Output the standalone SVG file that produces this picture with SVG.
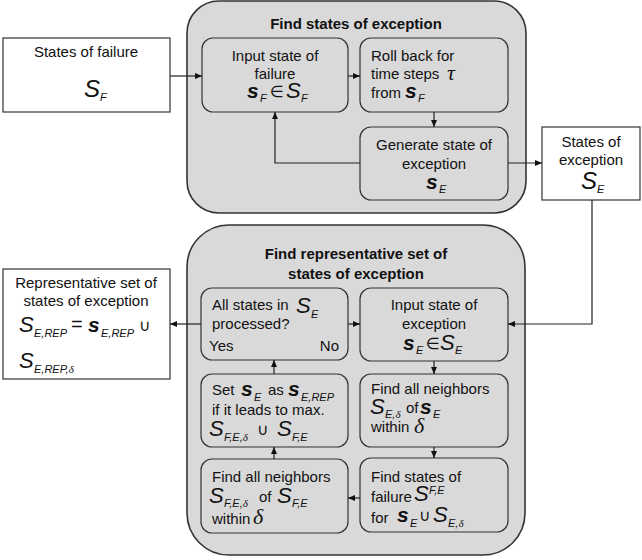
<svg xmlns="http://www.w3.org/2000/svg" width="642" height="560" viewBox="0 0 642 560">
  <style>
    .t { font-family: "Liberation Sans", Arial, sans-serif; font-size: 15px; fill: #111; }
    .c { text-anchor: middle; }
    .e { text-anchor: end; }
    .h { font-weight: bold; }
    .S { font-family: "Liberation Sans", Arial, sans-serif; font-style: italic; font-size: 22px; fill: #111; }
    .L { font-size: 24px; }
    .s { font-family: "Liberation Sans", Arial, sans-serif; font-style: italic; font-weight: bold; font-size: 21px; fill: #111; }
    .sub { font-family: "Liberation Sans", Arial, sans-serif; font-style: italic; font-size: 11px; fill: #111; }
    .gr { font-family: "Liberation Serif", "Times New Roman", serif; font-style: italic; font-size: 22px; fill: #111; }
    .gs { font-family: "Liberation Serif", "Times New Roman", serif; font-style: italic; font-size: 11px; }
    .op { font-family: "DejaVu Sans", sans-serif; font-size: 16px; fill: #111; }
    .group { fill: #d9d9d9; stroke: #333; stroke-width: 1.6; }
    .step { fill: #d9d9d9; stroke: #333; stroke-width: 1.2; }
    .io { fill: #ffffff; stroke: #333; stroke-width: 1.2; }
    .link { fill: none; stroke: #222; stroke-width: 1.2; marker-end: url(#arrow); }
  </style>
  <defs>
    <marker id="arrow" markerUnits="userSpaceOnUse" markerWidth="7" markerHeight="6" refX="7" refY="3" orient="auto">
      <path d="M0,0 L7,3 L0,6 Z" fill="#111"/>
    </marker>
  </defs>

  <rect width="642" height="560" fill="#ffffff"/>

  <!-- Upper stage: find states of exception -->
  <g id="stage-exception">
    <rect class="group" x="187" y="1" width="339" height="212" rx="32"/>
    <text class="t h c" x="356" y="29">Find states of exception</text>
  </g>

  <!-- Lower stage: find representative set -->
  <g id="stage-representative">
    <rect class="group" x="187" y="225" width="338" height="330" rx="42"/>
    <text class="t h c" x="356" y="259">Find representative set of</text>
    <text class="t h c" x="356" y="279">states of exception</text>
  </g>

  <g id="states-of-failure">
    <rect class="io" x="3" y="38" width="167" height="74"/>
    <text class="t c" x="86" y="57">States of failure</text>
    <text class="S L" x="84" y="97">S</text>
    <text class="sub" x="100" y="101">F</text>
  </g>

  <g id="input-failure">
    <rect class="step" x="202" y="38" width="146" height="74" rx="11"/>
    <text class="t c" x="275" y="61">Input state of</text>
    <text class="t c" x="275" y="79">failure</text>
    <text class="s" x="247" y="98">s</text>
    <text class="sub" x="260" y="102">F</text>
    <text class="op" x="270" y="97">∈</text>
    <text class="S" x="286" y="98">S</text>
    <text class="sub" x="301" y="102">F</text>
  </g>

  <g id="roll-back">
    <rect class="step" x="360" y="38" width="148" height="74" rx="11"/>
    <text class="t" x="371" y="61">Roll back for</text>
    <text class="t" x="371" y="79">time steps</text>
    <text class="gr" x="447" y="80">τ</text>
    <text class="t" x="371" y="98">from</text>
    <text class="s" x="405" y="98">s</text>
    <text class="sub" x="418" y="102">F</text>
  </g>

  <g id="generate-exception">
    <rect class="step" x="360" y="127" width="148" height="73" rx="11"/>
    <text class="t c" x="434" y="150">Generate state of</text>
    <text class="t c" x="434" y="169">exception</text>
    <text class="s" x="426" y="189">s</text>
    <text class="sub" x="439" y="193">E</text>
  </g>

  <g id="states-of-exception">
    <rect class="io" x="542" y="127" width="98" height="73"/>
    <text class="t c" x="591" y="147">States of</text>
    <text class="t c" x="591" y="165">exception</text>
    <text class="S L" x="581" y="189">S</text>
    <text class="sub" x="597" y="193">E</text>
  </g>

  <g id="representative-set">
    <rect class="io" x="3" y="269" width="167" height="110"/>
    <text class="t c" x="86" y="288">Representative set of</text>
    <text class="t c" x="86" y="306">states of exception</text>
    <text class="S" x="19" y="332">S</text>
    <text class="sub" x="34" y="337">E,REP</text>
    <text class="t" x="71" y="331" style="font-size:20px">=</text>
    <text class="s" x="88" y="332">s</text>
    <text class="sub" x="101" y="337">E,REP</text>
    <text class="op" x="139" y="331">∪</text>
    <text class="S" x="19" y="368">S</text>
    <text class="sub" x="34" y="373">E,REP,<tspan class="gs">δ</tspan></text>
  </g>

  <g id="all-processed">
    <rect class="step" x="201" y="288" width="147" height="72" rx="11"/>
    <text class="t" x="212" y="310">All states in</text>
    <text class="S" x="296" y="313">S</text>
    <text class="sub" x="311" y="318">E</text>
    <text class="t" x="212" y="329">processed?</text>
    <text class="t" x="209" y="351">Yes</text>
    <text class="t e" x="339" y="351">No</text>
  </g>

  <g id="input-exception">
    <rect class="step" x="360" y="288" width="148" height="73" rx="11"/>
    <text class="t c" x="434" y="310">Input state of</text>
    <text class="t c" x="434" y="329">exception</text>
    <text class="s" x="403" y="350">s</text>
    <text class="sub" x="416" y="354">E</text>
    <text class="op" x="426" y="349">∈</text>
    <text class="S" x="440" y="350">S</text>
    <text class="sub" x="455" y="354">E</text>
  </g>

  <g id="set-representative">
    <rect class="step" x="201" y="374" width="147" height="73" rx="11"/>
    <text class="t" x="212" y="395">Set</text>
    <text class="s" x="241" y="396">s</text>
    <text class="sub" x="254" y="401">E</text>
    <text class="t" x="268" y="395">as</text>
    <text class="s" x="288" y="396">s</text>
    <text class="sub" x="301" y="401">E,REP</text>
    <text class="t" x="212" y="415">if it leads to max.</text>
    <text class="S" x="209" y="436">S</text>
    <text class="sub" x="224" y="441">F,E,<tspan class="gs">δ</tspan></text>
    <text class="op" x="257" y="435">∪</text>
    <text class="S" x="277" y="436">S</text>
    <text class="sub" x="292" y="441">F,E</text>
  </g>

  <g id="neighbors-exception">
    <rect class="step" x="360" y="374" width="148" height="73" rx="11"/>
    <text class="t" x="371" y="394">Find all neighbors</text>
    <text class="S" x="370" y="414">S</text>
    <text class="sub" x="385" y="418">E,<tspan class="gs">δ</tspan></text>
    <text class="t" x="406" y="413">of</text>
    <text class="s" x="420" y="414">s</text>
    <text class="sub" x="433" y="418">E</text>
    <text class="t" x="371" y="432">within</text>
    <text class="gr" x="414" y="433">δ</text>
  </g>

  <g id="neighbors-failure">
    <rect class="step" x="201" y="459" width="147" height="74" rx="11"/>
    <text class="t" x="212" y="482">Find all neighbors</text>
    <text class="S" x="209" y="503">S</text>
    <text class="sub" x="224" y="507">F,E,<tspan class="gs">δ</tspan></text>
    <text class="t" x="259" y="502">of</text>
    <text class="S" x="277" y="503">S</text>
    <text class="sub" x="292" y="507">F,E</text>
    <text class="t" x="212" y="524">within</text>
    <text class="gr" x="253" y="524">δ</text>
  </g>

  <g id="find-failure">
    <rect class="step" x="360" y="458" width="148" height="74" rx="11"/>
    <text class="t" x="371" y="482">Find states of</text>
    <text class="t" x="371" y="502">failure</text>
    <text class="S" x="414" y="501">S</text>
    <text class="sub" x="429" y="494">F,E</text>
    <text class="t" x="371" y="523">for</text>
    <text class="s" x="397" y="522">s</text>
    <text class="sub" x="410" y="527">E</text>
    <text class="op" x="419" y="521">∪</text>
    <text class="S" x="433" y="522">S</text>
    <text class="sub" x="448" y="527">E,<tspan class="gs">δ</tspan></text>
  </g>

  <!-- Connectors -->
  <g id="connectors">
    <path class="link" d="M170,76 H202"/>
    <path class="link" d="M348,76 H360"/>
    <path class="link" d="M434,112 V127"/>
    <path class="link" d="M360,163 H275 V112"/>
    <path class="link" d="M508,163 H542"/>
    <path class="link" d="M592,200 V324 H508"/>
    <path class="link" d="M348,324 H360"/>
    <path class="link" d="M201,324 H170"/>
    <path class="link" d="M434,361 V374"/>
    <path class="link" d="M434,447 V458"/>
    <path class="link" d="M360,498 H348"/>
    <path class="link" d="M274,459 V447"/>
    <path class="link" d="M274,374 V360"/>
  </g>
</svg>
